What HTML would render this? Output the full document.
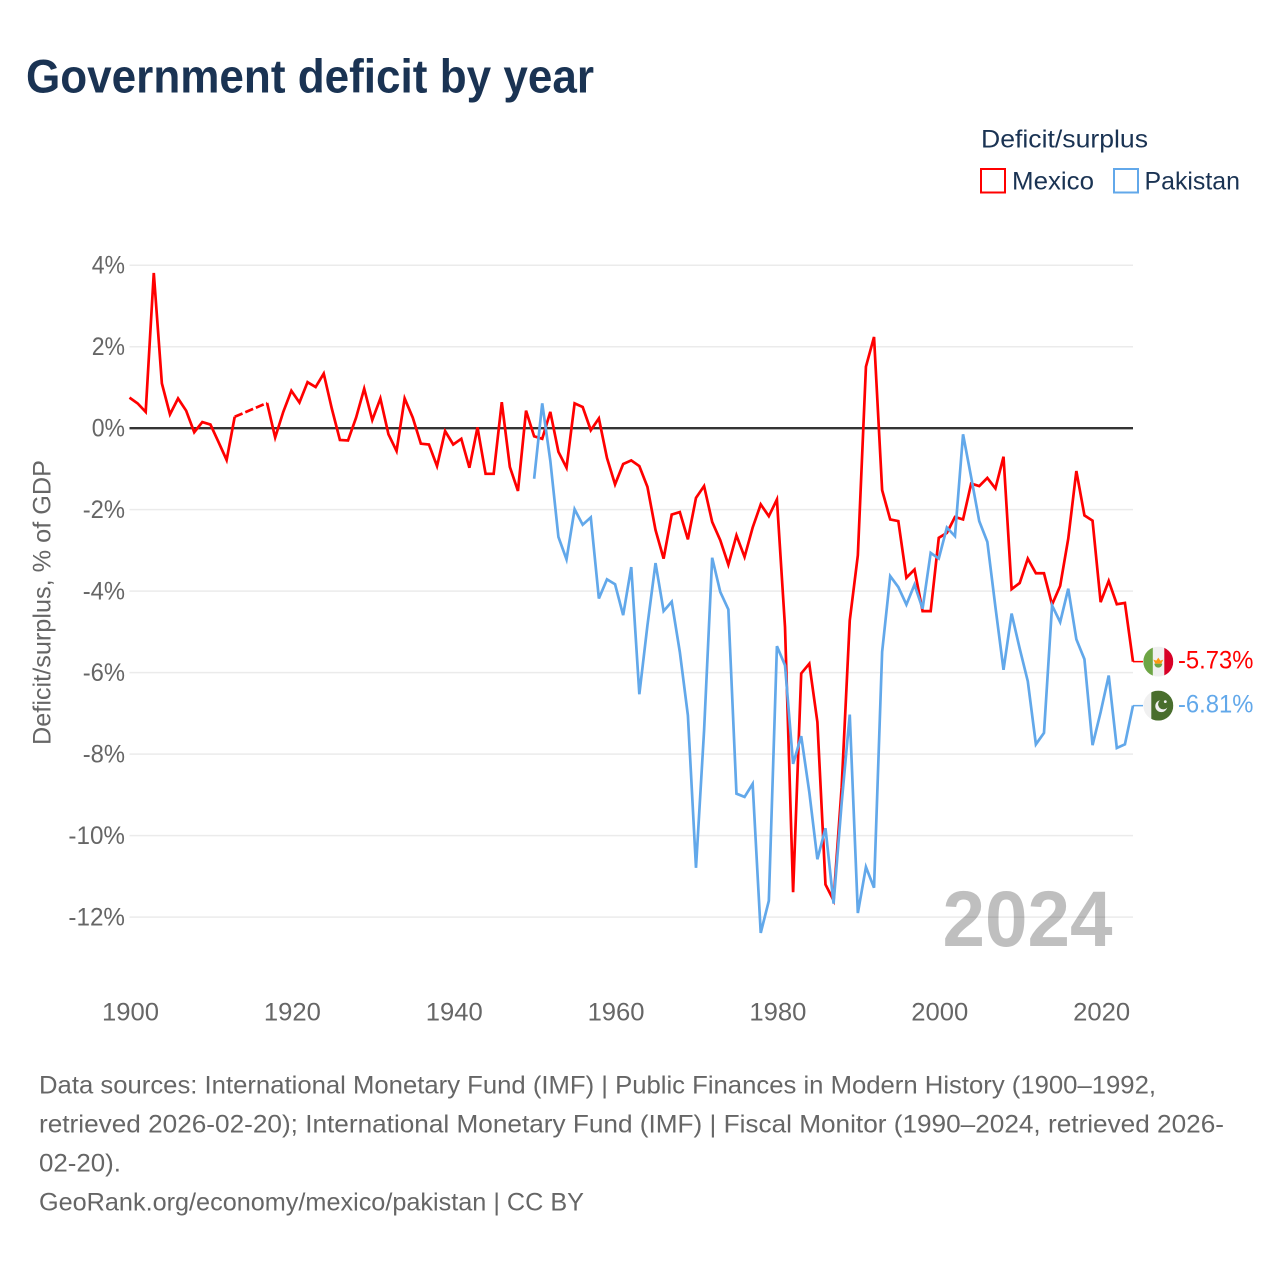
<!DOCTYPE html>
<html lang="en">
<head>
<meta charset="utf-8">
<title>Government deficit by year</title>
<style>
  html, body { margin: 0; padding: 0; background: #fff; }
  svg { display: block; }
  text { font-family: "Liberation Sans", sans-serif; }
</style>
</head>
<body>
<svg id="chart" xmlns="http://www.w3.org/2000/svg" width="1280" height="1280" viewBox="0 0 1280 1280">
  <rect x="0" y="0" width="1280" height="1280" fill="#ffffff"/>
  <text x="26" y="92.5" font-size="47" font-weight="700" fill="#1a3353" textLength="568" lengthAdjust="spacingAndGlyphs">Government deficit by year</text>

  <g>
    <text x="981" y="147.5" font-size="25" fill="#1a3353" textLength="167" lengthAdjust="spacingAndGlyphs">Deficit/surplus</text>
    <g>
      <rect x="981" y="169" width="24" height="23.5" fill="none" stroke="#ff0000" stroke-width="2"/>
      <text x="1012" y="189.5" font-size="25" fill="#1a3353" textLength="82" lengthAdjust="spacingAndGlyphs">Mexico</text>
    </g>
    <g>
      <rect x="1114" y="169" width="24" height="23.5" fill="none" stroke="#62a8ea" stroke-width="2"/>
      <text x="1144.5" y="189.5" font-size="25" fill="#1a3353" textLength="95.5" lengthAdjust="spacingAndGlyphs">Pakistan</text>
    </g>
  </g>

  <g id="grid"></g>
  <g id="yTicks"></g>
  <g id="xTicks"></g>
  <text transform="translate(50.5 602.5) rotate(-90)" text-anchor="middle" font-size="25" fill="#666666" textLength="285" lengthAdjust="spacingAndGlyphs">Deficit/surplus, % of GDP</text>

  <text x="942.5" y="946" font-size="79" font-weight="700" fill="#000000" fill-opacity="0.25" textLength="170" lengthAdjust="spacingAndGlyphs">2024</text>

  <g id="series"></g>

  <g id="flagMexico">
    <clipPath id="clipMexico"><circle cx="0" cy="0" r="15"/></clipPath>
    <g clip-path="url(#clipMexico)">
      <rect x="-15" y="-15" width="30" height="30" fill="#f0f0f0"/>
      <rect x="-15" y="-15" width="9.5" height="30" fill="#6da544"/>
      <rect x="6" y="-15" width="9" height="30" fill="#d80027"/>
      <path d="M-4 2 A4 4 0 0 0 4 2 Z" fill="#6da544"/>
      <path d="M-5 -2 L-2 -1 L0 -4 L2 -1 L5 -2 L3 2 L-3 2 Z" fill="#ff9811"/>
    </g>
  </g>
  <g id="flagPakistan">
    <clipPath id="clipPakistan"><circle cx="0" cy="0" r="15"/></clipPath>
    <g clip-path="url(#clipPakistan)">
      <rect x="-15" y="-15" width="30" height="30" fill="#f0f0f0"/>
      <rect x="-7" y="-15" width="22" height="30" fill="#496e2d"/>
      <circle cx="3" cy="0.5" r="6" fill="#f0f0f0"/>
      <circle cx="5" cy="-1.5" r="5.2" fill="#496e2d"/>
      <circle cx="7" cy="-4" r="1.4" fill="#f0f0f0"/>
    </g>
  </g>
  <g id="valueLabels"></g>

  <g font-size="25" fill="#666666">
    <text x="39" y="1093.5" textLength="1117" lengthAdjust="spacingAndGlyphs">Data sources: International Monetary Fund (IMF) | Public Finances in Modern History (1900–1992,</text>
    <text x="39" y="1132.5" textLength="1185" lengthAdjust="spacingAndGlyphs">retrieved 2026-02-20); International Monetary Fund (IMF) | Fiscal Monitor (1990–2024, retrieved 2026-</text>
    <text x="39" y="1171.5" textLength="82" lengthAdjust="spacingAndGlyphs">02-20).</text>
    <text x="39" y="1210.5" textLength="545" lengthAdjust="spacingAndGlyphs">GeoRank.org/economy/mexico/pakistan | CC BY</text>
  </g>
</svg>

<script>
const xTickValues = [1900, 1920, 1940, 1960, 1980, 2000, 2020];
const yTickValues = [4, 2, 0, -2, -4, -6, -8, -10, -12];
const mexicoStartYear = 1900;
const pakistanStartYear = 1950;
const mexicoValues = [
  0.75, 0.61, 0.40, 3.81, 1.10, 0.34, 0.73, 0.43, -0.10, 0.15,
  0.09, -0.34, -0.78, 0.28, null, null, null, 0.62, -0.23, 0.40,
  0.92, 0.63, 1.13, 1.01, 1.34, 0.48, -0.29, -0.30, 0.26, 0.97,
  0.20, 0.73, -0.15, -0.56, 0.73, 0.26, -0.38, -0.40, -0.93, -0.07,
  -0.40, -0.26, -0.97, 0.02, -1.12, -1.12, 0.64, -0.95, -1.54, 0.43,
  -0.20, -0.26, 0.40, -0.58, -0.97, 0.61, 0.52, -0.05, 0.24, -0.73,
  -1.38, -0.88, -0.79, -0.93, -1.44, -2.50, -3.20, -2.12, -2.06, -2.73,
  -1.71, -1.42, -2.30, -2.75, -3.35, -2.63, -3.16, -2.44, -1.87, -2.16,
  -1.75, -4.88, -11.39, -6.02, -5.78, -7.21, -11.20, -11.59, -8.81, -4.72,
  -3.12, 1.51, 2.24, -1.52, -2.24, -2.28, -3.67, -3.47, -4.49, -4.49,
  -2.69, -2.57, -2.18, -2.24, -1.36, -1.42, -1.22, -1.48, -0.70, -3.95,
  -3.80, -3.20, -3.56, -3.56, -4.33, -3.87, -2.71, -1.05, -2.14, -2.27,
  -4.27, -3.75, -4.32, -4.29, -5.73
];
const pakistanValues = [
  -1.24, 0.61, -0.80, -2.67, -3.22, -1.99, -2.37, -2.19, -4.18, -3.71,
  -3.83, -4.59, -3.41, -6.53, -4.84, -3.31, -4.49, -4.26, -5.49, -7.05,
  -10.79, -7.42, -3.18, -4.02, -4.45, -8.97, -9.05, -8.73, -12.39, -11.60,
  -5.35, -5.82, -8.24, -7.56, -8.93, -10.58, -9.82, -11.67, -9.20, -7.03,
  -11.90, -10.77, -11.28, -5.49, -3.63, -3.90, -4.33, -3.84, -4.43, -3.06,
  -3.20, -2.44, -2.65, -0.15, -1.20, -2.28, -2.79, -4.39, -5.93, -4.55,
  -5.41, -6.21, -7.76, -7.48, -4.35, -4.76, -3.94, -5.18, -5.67, -7.78,
  -6.97, -6.07, -7.85, -7.76, -6.81
];

const NS = 'http://www.w3.org/2000/svg';
const plotLeft = 129.5, plotRight = 1133, zeroY = 428.2, pxPerUnit = 40.74;
const xMin = 1900, xMax = 2024;
const RED = '#ff0000', BLUE = '#62a8ea';

function xScale(year) {
  return plotLeft + (year - xMin) * (plotRight - plotLeft) / (xMax - xMin);
}
function yScale(v) {
  return zeroY - v * pxPerUnit;
}
function make(tag, parentId) {
  const el = document.createElementNS(NS, tag);
  document.getElementById(parentId).appendChild(el);
  return el;
}
function pointsOf(values, startYear) {
  return values.map(function (v, i) {
    return v === null ? null : [xScale(startYear + i), yScale(v)];
  });
}
function solidPath(points) {
  let d = '', pen = false;
  points.forEach(function (p) {
    if (p === null) { pen = false; return; }
    d += (pen ? 'L' : 'M') + p[0].toFixed(2) + ' ' + p[1].toFixed(2);
    pen = true;
  });
  return d;
}
function gapPath(points) {
  let d = '', last = null, gap = false;
  points.forEach(function (p) {
    if (p === null) { gap = true; return; }
    if (gap && last) {
      d += 'M' + last[0].toFixed(2) + ' ' + last[1].toFixed(2) + 'L' + p[0].toFixed(2) + ' ' + p[1].toFixed(2);
    }
    gap = false;
    last = p;
  });
  return d;
}
function styleLine(el, color) {
  el.setAttribute('fill', 'none');
  el.setAttribute('stroke', color);
  el.setAttribute('stroke-width', '2.7');
  el.setAttribute('stroke-linejoin', 'miter');
}

/* gridlines and y ticks */
yTickValues.forEach(function (v) {
  const line = make('line', 'grid');
  
  
  line.setAttribute('x1', plotLeft);
  line.setAttribute('x2', plotRight);
  line.setAttribute('y1', yScale(v));
  line.setAttribute('y2', yScale(v));
  line.setAttribute('stroke', v === 0 ? '#333333' : '#ebebeb');
  line.setAttribute('stroke-width', v === 0 ? '2.4' : '1.5');

  const label = make('text', 'yTicks');
  
  
  const str = v + '%';
  const digits = String(Math.abs(v)).length;
  label.textContent = str;
  label.setAttribute('x', 125);
  label.setAttribute('y', yScale(v) + 8.3);
  label.setAttribute('text-anchor', 'end');
  label.setAttribute('font-size', '25');
  label.setAttribute('fill', '#666666');
  label.setAttribute('textLength', digits * 14.3 + 19 + (v < 0 ? 9 : 0));
  label.setAttribute('lengthAdjust', 'spacingAndGlyphs');
});

/* x ticks */
xTickValues.forEach(function (year) {
  const label = make('text', 'xTicks');
  
  
  label.textContent = String(year);
  label.setAttribute('x', xScale(year) + 1);
  label.setAttribute('y', 1020.5);
  label.setAttribute('text-anchor', 'middle');
  label.setAttribute('font-size', '25');
  label.setAttribute('fill', '#666666');
  label.setAttribute('textLength', 57);
  label.setAttribute('lengthAdjust', 'spacingAndGlyphs');
});

/* Mexico series */
const mexicoPoints = pointsOf(mexicoValues, mexicoStartYear);
const mexicoLine = make('path', 'series');


mexicoLine.setAttribute('d', solidPath(mexicoPoints));
styleLine(mexicoLine, RED);

const mexicoGap = make('path', 'series');


mexicoGap.setAttribute('d', gapPath(mexicoPoints));
styleLine(mexicoGap, RED);
mexicoGap.setAttribute('stroke-dasharray', '8.5 3');

/* Pakistan series */
const pakistanPoints = pointsOf(pakistanValues, pakistanStartYear);
const pakistanLine = make('path', 'series');


pakistanLine.setAttribute('d', solidPath(pakistanPoints));
styleLine(pakistanLine, BLUE);

/* end connectors, flags and value labels */
const mexicoLast = mexicoValues[mexicoValues.length - 1];
const pakistanLast = pakistanValues[pakistanValues.length - 1];

const mexicoConnector = make('line', 'series');


mexicoConnector.setAttribute('x1', plotRight);
mexicoConnector.setAttribute('x2', 1143);
mexicoConnector.setAttribute('y1', yScale(mexicoLast));
mexicoConnector.setAttribute('y2', yScale(mexicoLast));
styleLine(mexicoConnector, RED);
mexicoConnector.setAttribute('stroke-width', '1.5');

const pakistanConnector = make('line', 'series');


pakistanConnector.setAttribute('x1', plotRight);
pakistanConnector.setAttribute('x2', 1143);
pakistanConnector.setAttribute('y1', yScale(pakistanLast));
pakistanConnector.setAttribute('y2', yScale(pakistanLast));
styleLine(pakistanConnector, BLUE);
pakistanConnector.setAttribute('stroke-width', '1.5');

document.getElementById('flagMexico').setAttribute('transform', 'translate(1158.3 ' + yScale(mexicoLast) + ')');
document.getElementById('flagPakistan').setAttribute('transform', 'translate(1158.3 ' + yScale(pakistanLast) + ')');

const mexicoLabel = make('text', 'valueLabels');


mexicoLabel.textContent = mexicoLast.toFixed(2) + '%';
mexicoLabel.setAttribute('x', 1178);
mexicoLabel.setAttribute('y', yScale(mexicoLast) + 7);
mexicoLabel.setAttribute('font-size', '25');
mexicoLabel.setAttribute('fill', RED);
mexicoLabel.setAttribute('textLength', 75.5);
mexicoLabel.setAttribute('lengthAdjust', 'spacingAndGlyphs');

const pakistanLabel = make('text', 'valueLabels');


pakistanLabel.textContent = pakistanLast.toFixed(2) + '%';
pakistanLabel.setAttribute('x', 1178);
pakistanLabel.setAttribute('y', yScale(pakistanLast) + 7);
pakistanLabel.setAttribute('font-size', '25');
pakistanLabel.setAttribute('fill', BLUE);
pakistanLabel.setAttribute('textLength', 75.5);
pakistanLabel.setAttribute('lengthAdjust', 'spacingAndGlyphs');
</script>
</body>
</html>
